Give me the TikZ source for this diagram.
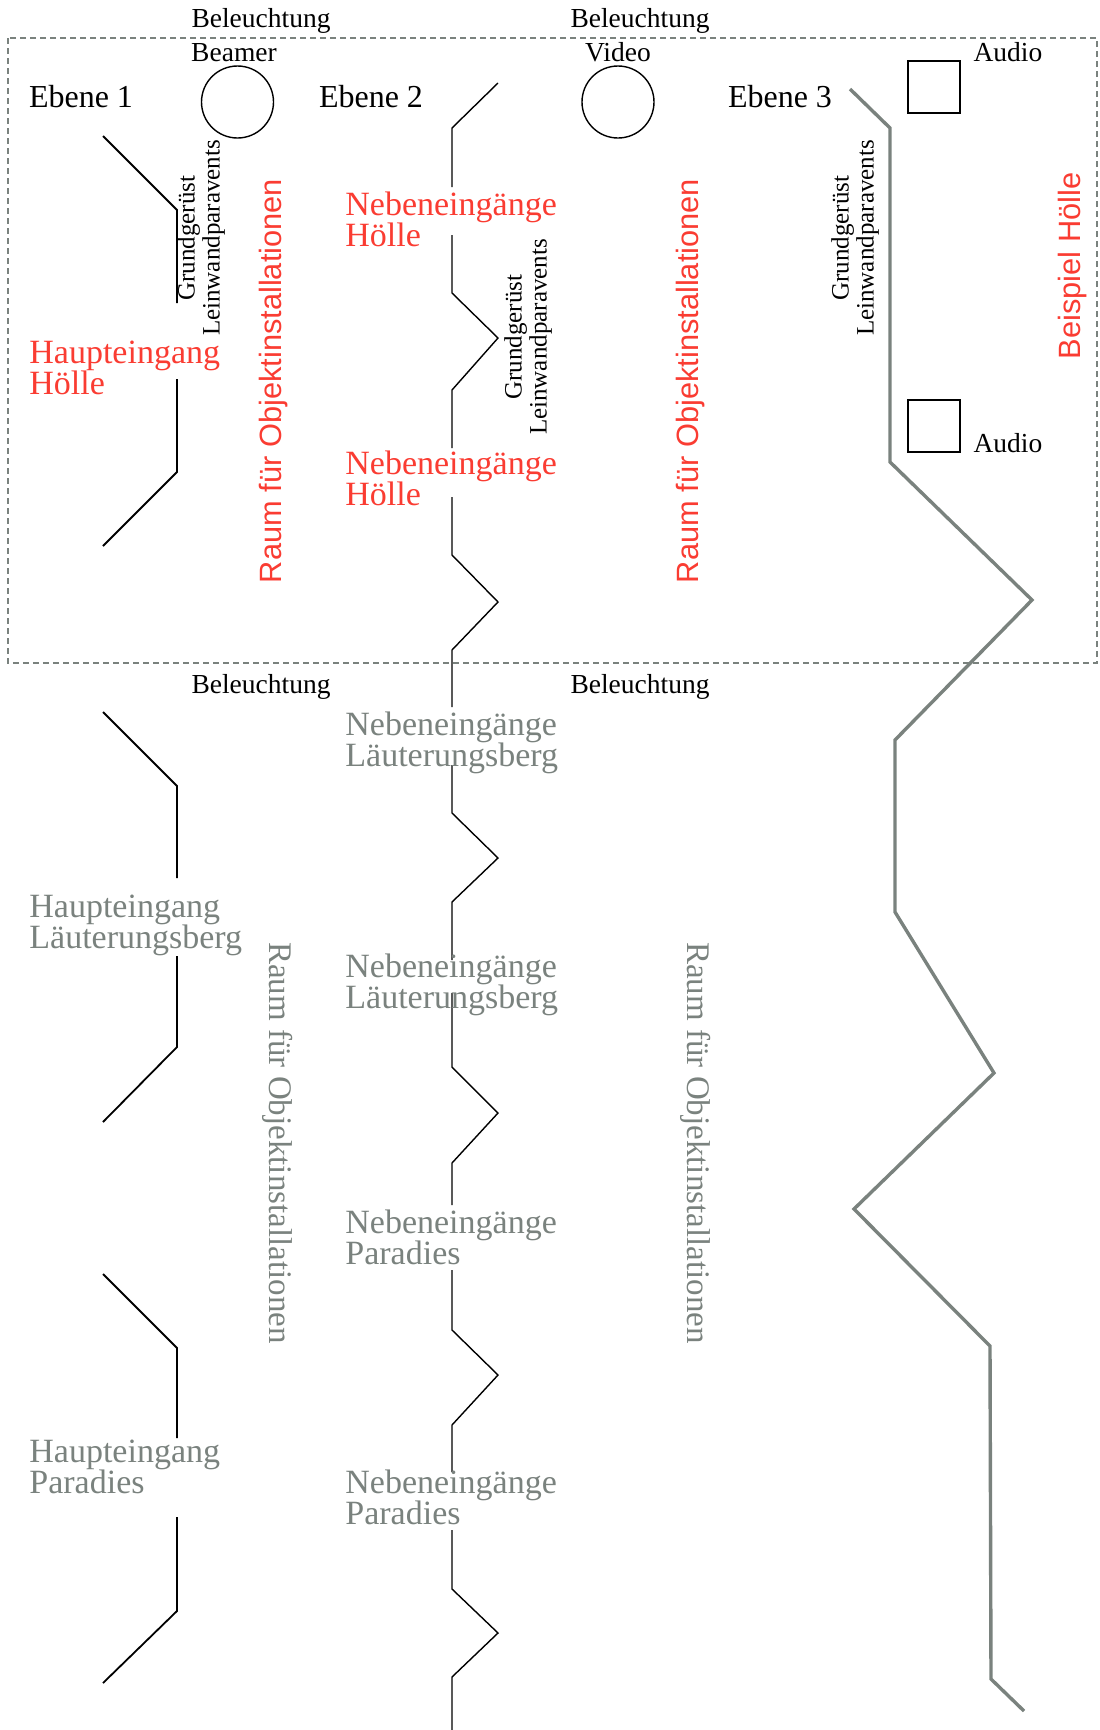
\documentclass[tikz,border=0pt]{standalone}
\usepackage{fontspec}
\setmainfont{Liberation Serif}
\newfontfamily\raumfont{Liberation Sans}
\usepackage{tikz}
\definecolor{hoelle}{HTML}{FA3C32}
\definecolor{berg}{HTML}{7A827E}
\setlength{\lineskiplimit}{-5pt}
\tikzset{
  wand/.style={line width=0.9pt},
  zack/.style={line width=0.7pt},
  pfad/.style={berg,line width=1.7pt,line join=miter},
  klein/.style={font=\fontsize{13.75}{14}\selectfont,inner sep=0pt,anchor=base},
  ebene/.style={font=\fontsize{16}{18}\selectfont,inner sep=0pt,anchor=base},
  eingang/.style={font=\fontsize{17}{15.5}\selectfont,align=left,inner sep=0pt,anchor=base west},
  raum/.style={font=\raumfont\fontsize{15.4}{16}\selectfont,hoelle,rotate=90,inner sep=0pt},
  graum/.style={font=\fontsize{16.5}{17}\selectfont,berg,rotate=-90,inner sep=0pt},
  geruest/.style={font=\fontsize{12.5}{12.5}\selectfont,align=center,rotate=90,inner sep=0pt},
}

\begin{document}
\begin{tikzpicture}[x=0.5pt,y=-0.5pt]
\useasboundingbox (0,0) rectangle (1099,1730);
\coordinate (boxa) at (8,38);
\coordinate (boxb) at (1097,663);
\draw[berg,line width=1pt,dash pattern=on 3pt off 2pt] (boxa) rectangle (boxb);

\node[klein] (licht1) at (261,27) {Beleuchtung};
\node[klein] (licht2) at (640,27) {Beleuchtung};
\node[klein] (licht3) at (261,693) {Beleuchtung};
\node[klein] (licht4) at (640,693) {Beleuchtung};
\node[klein] (beamertext) at (234,61) {Beamer};
\node[klein] (videotext) at (618,61) {Video};
\node[klein] (audiotext1) at (1008,61) {Audio};
\node[klein] (audiotext2) at (1008,452) {Audio};

\node[draw,circle,zack,minimum size=36pt,inner sep=0pt] (beamer) at (237.5,102) {};
\node[draw,circle,zack,minimum size=36pt,inner sep=0pt] (video) at (618,102) {};
\node[draw,line width=1.3pt,minimum size=26pt,inner sep=0pt] (audio1) at (934,87) {};
\node[draw,line width=1.3pt,minimum size=26pt,inner sep=0pt] (audio2) at (934,426) {};

\node[ebene] (ebene1) at (81,107) {Ebene 1};
\node[ebene] (ebene2) at (371,107) {Ebene 2};
\node[ebene] (ebene3) at (780,107) {Ebene 3};

\draw[wand] (103,136) -- (177,210) -- (177,303);
\draw[wand] (177,379) -- (177,472) -- (103,546);
\draw[wand] (103,712) -- (177,786) -- (177,878);
\draw[wand] (177,956) -- (177,1047) -- (103,1122);
\draw[wand] (103,1274) -- (177,1348) -- (177,1438);
\draw[wand] (177,1517) -- (177,1611) -- (103,1683);

\draw[zack] (498,83) -- (452,128) -- (452,187);
\draw[zack] (452,235) -- (452,293) -- (498,338) -- (452,390) -- (452,448);
\draw[zack] (452,497) -- (452,555) -- (498,602) -- (452,650) -- (452,707);
\draw[zack] (452,765) -- (452,813) -- (498,858) -- (452,902) -- (452,960);
\draw[zack] (452,993) -- (452,1067) -- (498,1113) -- (452,1163) -- (452,1205);
\draw[zack] (452,1270) -- (452,1330) -- (498,1375) -- (452,1425) -- (452,1472);
\draw[zack] (452,1530) -- (452,1589) -- (498,1633) -- (452,1677) -- (452,1730);

\coordinate (P1) at (850,89);
\coordinate (P2) at (890,128);
\coordinate (P3) at (890,462);
\coordinate (P4) at (1032,600);
\coordinate (P5) at (895,740);
\coordinate (P6) at (895,912);
\coordinate (P7) at (994,1073);
\coordinate (P8) at (854,1209);
\coordinate (P9) at (990,1346);
\coordinate (P10) at (991,1679);
\coordinate (P11) at (1024,1711);
\draw[pfad] (P1) -- (P2) -- (P3) -- (P4) -- (P5) -- (P6) -- (P7) -- (P8) -- (P9) -- (P10) -- (P11);

\node[eingang,hoelle] (haupthoelle) at (29,394) {Haupteingang\\Hölle};
\node[eingang,hoelle] (nebenhoelle1) at (345,246) {Nebeneingänge\\Hölle};
\node[eingang,hoelle] (nebenhoelle2) at (345,505) {Nebeneingänge\\Hölle};
\node[eingang,berg] (nebenberg1) at (345,766) {Nebeneingänge\\Läuterungsberg};
\node[eingang,berg] (hauptberg) at (29,948) {Haupteingang\\Läuterungsberg};
\node[eingang,berg] (nebenberg2) at (345,1008) {Nebeneingänge\\Läuterungsberg};
\node[eingang,berg] (nebenparadies1) at (345,1264) {Nebeneingänge\\Paradies};
\node[eingang,berg] (hauptparadies) at (29,1493) {Haupteingang\\Paradies};
\node[eingang,berg] (nebenparadies2) at (345,1524) {Nebeneingänge\\Paradies};

\node[geruest] (geruest1) at (201,238) {Grundgerüst\\Leinwandparavents};
\node[geruest] (geruest2) at (528,337) {Grundgerüst\\Leinwandparavents};
\node[geruest] (geruest3) at (855,238) {Grundgerüst\\Leinwandparavents};

\node[raum] (raum1) at (274,381) {Raum für Objektinstallationen};
\node[raum] (raum2) at (691,381) {Raum für Objektinstallationen};
\node[raum] (beispiel) at (1073,266) {Beispiel Hölle};
\node[graum] (raum3) at (278,1143) {Raum für Objektinstallationen};
\node[graum] (raum4) at (696,1143) {Raum für Objektinstallationen};
\end{tikzpicture}
\end{document}
